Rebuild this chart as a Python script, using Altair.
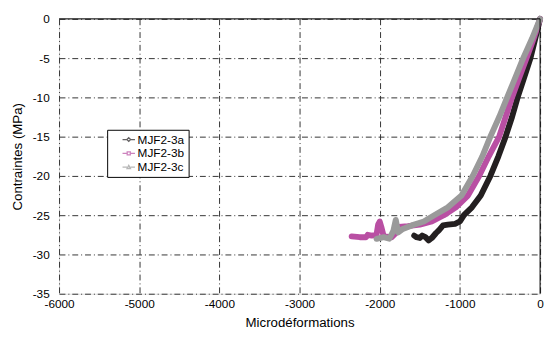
import altair as alt
import pandas as pd

# MJF2-3a (black)
a_x = [0, -60, -120, -200, -280, -350, -430, -520, -620, -740, -850, -950, -1000, -1060, -1150, -1210, -1260, -1300, -1350, -1390, -1430, -1470, -1500, -1540, -1570]
a_y = [0, -2.5, -5, -7.5, -10, -12.5, -15, -17.5, -20, -22.5, -24, -25, -25.8, -26.1, -26.2, -26.3, -26.9, -27.3, -27.9, -28.2, -27.8, -27.6, -27.9, -27.8, -27.6]
# MJF2-3b (magenta)
b_x = [0, -80, -170, -260, -350, -430, -510, -640, -760, -900, -1050, -1200, -1350, -1500, -1650, -1760, -1800, -1850, -1950, -1980, -2000, -2020, -2040, -2100, -2150, -2170, -2250, -2350]
b_y = [0, -2.5, -5, -7.5, -10, -12.5, -15, -17.5, -20, -22.5, -24, -25, -25.8, -26.2, -26.4, -26.5, -27.3, -27.8, -27.7, -26.5, -25.8, -26.2, -27.5, -27.6, -27.5, -27.8, -27.8, -27.7]
# MJF2-3c (gray)
c_x = [0, -100, -210, -310, -410, -510, -620, -720, -840, -980, -1150, -1320, -1450, -1600, -1720, -1770, -1800, -1830, -1880, -1950, -2040]
c_y = [0, -2.5, -5, -7.5, -10, -12.5, -15, -17.5, -20, -22.5, -24, -25, -25.8, -26.3, -26.8, -27.2, -25.6, -27, -28, -27.8, -28]

series = ["MJF2-3a", "MJF2-3b", "MJF2-3c"]
colors = ["#231f20", "#b94fa3", "#9a9a9a"]
# legend symbols: a short line with the marker on it
shapes = [
    "M-2,0H-0.6M0.6,0H2M0,-0.6L0.6,0L0,0.6L-0.6,0Z",
    "M-2,0H-0.5M0.5,0H2M-0.5,-0.5H0.5V0.5H-0.5Z",
    "M-2,0H-0.55M0.55,0H2M0,-0.55L0.55,0.45H-0.55Z",
]

x_ticks = [-6000, -5000, -4000, -3000, -2000, -1000, 0]
y_ticks = [0, -5, -10, -15, -20, -25, -30, -35]

rows = []
for name, xs, ys in zip(series, [a_x, b_x, c_x], [a_y, b_y, c_y]):
    for i, (xv, yv) in enumerate(zip(xs, ys)):
        rows.append({"serie": name, "x": xv, "y": yv, "i": i})
df = pd.DataFrame(rows)

xscale = alt.Scale(domain=[-6000, 0], nice=False)
yscale = alt.Scale(domain=[-35, 0], nice=False)

legend = alt.Legend(title=None, orient="none", legendX=49, legendY=113,
                    fillColor="white", strokeColor="black", padding=4,
                    labelFont="Liberation Sans", labelFontSize=12, labelColor="black",
                    symbolStrokeWidth=1.3, symbolSize=40, rowPadding=2,
                    symbolFillColor="white", labelOffset=3, symbolOffset=12)
color = alt.Color("serie:N", scale=alt.Scale(domain=series, range=colors), legend=legend)
shape = alt.Shape("serie:N", scale=alt.Scale(domain=series, range=shapes), legend=legend)

xaxis = alt.Axis(values=x_ticks, title="Microdéformations", labelExpr="'' + datum.value",
                 labelPadding=5, titlePadding=6)
yaxis = alt.Axis(values=y_ticks, title="Contraintes (MPa)", labelExpr="'' + datum.value",
                 labelPadding=10, titlePadding=8)

lines = alt.Chart(df).mark_line(strokeWidth=6, strokeJoin="round", strokeCap="round").encode(
    x=alt.X("x:Q", scale=xscale, axis=xaxis),
    y=alt.Y("y:Q", scale=yscale, axis=yaxis),
    color=color,
    detail="serie:N",
    order="i:Q",
)

pts = alt.Chart(pd.DataFrame({"serie": series, "x": [-9999] * 3, "y": [-99] * 3})).mark_point(
    filled=False, strokeWidth=1.5, clip=True
).encode(x=alt.X("x:Q", scale=xscale, axis=xaxis), y=alt.Y("y:Q", scale=yscale, axis=yaxis),
         color=color, shape=shape)

top_rule = alt.Chart(pd.DataFrame({"y": [0]})).mark_rule(color="black", strokeWidth=1).encode(
    y=alt.Y("y:Q", scale=yscale, axis=yaxis))
right_rule = alt.Chart(pd.DataFrame({"x": [0]})).mark_rule(color="black", strokeWidth=1).encode(
    x=alt.X("x:Q", scale=xscale, axis=xaxis))

chart = alt.layer(lines, pts, top_rule, right_rule).properties(
    width=490, height=280,
    autosize=alt.AutoSizeParams(type="none"),
    padding={"left": 52, "top": 8, "right": 4, "bottom": 40},
).configure_view(stroke=None).configure(background="white").configure_axis(
    grid=True, gridDash=[6, 3, 1, 3], gridColor="#333333", gridWidth=1,
    domain=False, ticks=False, labelOverlap=False, labelFlush=False,
    labelFont="Liberation Sans", labelFontSize=12, labelColor="black",
    titleFont="Liberation Sans", titleFontSize=13.5, titleFontWeight="normal", titleColor="black",
)

chart.save("out.html", embed_options={"renderer": "svg", "actions": False})
